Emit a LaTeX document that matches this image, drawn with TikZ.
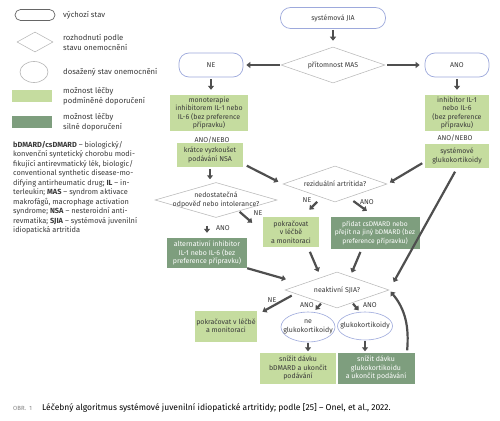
\documentclass[tikz,border=0pt]{standalone}
\usepackage{fontspec}
\setmainfont{Fira Sans}
\usepackage{xcolor}
\usetikzlibrary{arrows.meta,shapes,calc,positioning}
\definecolor{weakgreen}{HTML}{C5DC9F}
\definecolor{stronggreen}{HTML}{7E9E7E}
\definecolor{startline}{HTML}{9DA9DC}
\definecolor{decline}{HTML}{B4B4B4}
\definecolor{arrgray}{HTML}{4F4F4F}
\definecolor{txtgray}{HTML}{3A3A3A}

\begin{document}
\begin{tikzpicture}[x=1pt,y=-1pt]
			\tikzstyle{every node}=[font=\fontsize{7}{8.4}\selectfont, text=txtgray]
			\tikzstyle{start}=[draw=startline, line width=0.7pt, rounded corners=10pt, minimum height=24pt, inner sep=0pt]
			\tikzstyle{decision}=[draw=decline, line width=0.5pt, diamond, inner sep=0pt]
			\tikzstyle{result}=[draw=startline, line width=0.6pt, ellipse, inner sep=0pt]
			\tikzstyle{weak}=[fill=weakgreen, align=center, inner sep=0pt]
			\tikzstyle{strong}=[fill=stronggreen, text=white, align=center, inner sep=0pt]
			\tikzstyle{legtxt}=[anchor=west, align=left, inner sep=0pt, font=\fontsize{7.7}{10}\selectfont]
			\tikzstyle{arr}=[line width=2.2pt, draw=arrgray, -{Triangle[length=4pt,width=6pt]}]
			\fill[white] (0,0) rectangle (500,420);
			\useasboundingbox (0,0) rectangle (500,420);
			% legend
			\node[start, draw=gray!80!black, minimum width=40pt, minimum height=11pt, rounded corners=5.5pt] (legstart) at (35,15) {};
			\node[legtxt] (legstarttxt) at (63,15) {výchozí stav};
			\node[decision, minimum width=36pt, minimum height=20pt] (legdec) at (35,42) {};
			\node[legtxt] (legdectxt) at (63,42) {rozhodnutí podle\\stavu onemocnění};
			\node[result, draw=decline, minimum width=28pt, minimum height=21pt] (legres) at (34,72) {};
			\node[legtxt] (legrestxt) at (63,72) {dosažený stav onemocnění};
			\node[weak, minimum width=40pt, minimum height=12pt] (legweak) at (32,96) {};
			\node[legtxt] (legweaktxt) at (63,96) {možnost léčby\\podmíněné doporučení};
			\node[strong, minimum width=40pt, minimum height=12pt] (legstrong) at (32,122) {};
			\node[legtxt] (legstrongtxt) at (63,122) {možnost léčby\\silné doporučení};
			\node[anchor=north west, align=left, inner sep=0pt, font=\fontsize{7.4}{9.5}\selectfont] (abbr) at (13,141) {\textbf{bDMARD/csDMARD} – biologický/\\konvenční syntetický chorobu modi-\\fikující antirevmatický lék, biologic/\\conventional synthetic disease-mo-\\difying antirheumatic drug; \textbf{IL} – in-\\terleukin; \textbf{MAS} – syndrom aktivace\\makrofágů, macrophage activation\\syndrome; \textbf{NSA} – nesteroidní anti-\\revmatika; \textbf{SJIA} – systémová juvenilní\\idiopatická artritida};
			% flow
			\node[start, minimum width=105pt, minimum height=21pt] (jia) at (333,18) {systémová JIA};
			\node[decision, minimum width=104pt, minimum height=36pt, label={center:přítomnost MAS}] (mas) at (333,65) {};
			\node[start, minimum width=64pt] (ne) at (211,65) {NE};
			\node[start, minimum width=64pt] (ano) at (457,65) {ANO};
			\node[weak, minimum width=78pt, minimum height=36pt] (mono) at (209,113) {monoterapie\\inhibitorem IL-1 nebo\\IL-6 (bez preference\\přípravku)};
			\node[weak, minimum width=64pt, minimum height=36pt] (il) at (457,113) {inhibitor IL-1\\nebo IL-6\\(bez preference\\přípravku)};
			\node (anonebo1) at (212,140) {ANO/NEBO};
			\node (anonebo2) at (455,138) {ANO/NEBO};
			\node[weak, minimum width=66pt, minimum height=24pt] (nsa) at (210,155) {krátce vyzkoušet\\podávání NSA};
			\node[weak, minimum width=64pt, minimum height=24pt] (glk) at (457,156) {systémové\\glukokortikoidy};
			\node[decision, minimum width=122pt, minimum height=35pt, label={[align=center]center:nedostatečná\\odpověď nebo intolerance?}] (nedost) at (216,200) {};
			\node[decision, minimum width=104pt, minimum height=36pt, label={center:reziduální artritida?}] (rez) at (335,184) {};
			\node[weak, minimum width=56pt, minimum height=30pt] (pokr1) at (291,232) {pokračovat\\v léčbě\\a monitoraci};
			\node[strong, minimum width=89pt, minimum height=32pt, font=\fontsize{6.7}{8.2}\selectfont] (pridat) at (375,233) {přidat csDMARD nebo\\přejít na jiný bDMARD (bez\\preference přípravku)};
			\node[strong, minimum width=80pt, minimum height=30pt] (alt) at (207,253) {alternativní inhibitor\\IL-1 nebo IL-6 (bez\\preference přípravku)};
			\node[decision, minimum width=104pt, minimum height=36pt, label={center:neaktivní SJIA?}] (neakt) at (337,290) {};
			\node[weak, minimum width=62pt, minimum height=31pt] (pokr2) at (226,326) {pokračovat v léčbě\\a monitoraci};
			\node[result, minimum width=54pt, minimum height=30pt, label={[align=center]center:ne\\glukokortikoidy}] (negk) at (308,327) {};
			\node[result, minimum width=55pt, minimum height=28pt, label={center:glukokortikoidy}] (gk) at (365,326) {};
			\node[weak, minimum width=76pt, minimum height=31pt] (snizb) at (298,368) {snížit dávku\\bDMARD a ukončit\\podávání};
			\node[strong, minimum width=77pt, minimum height=31pt] (snizg) at (376,368) {snížit dávku\\glukokortikoidu\\a ukončit podávání};
			% branch labels
			\node (nedostne) at (258,213) {NE};
			\node (nedostano) at (223,228) {ANO};
			\node (rezne) at (307,200) {NE};
			\node (rezano) at (367,202) {ANO};
			\node (neaktne) at (272,300) {NE};
			\node (neaktano1) at (307,305) {ANO};
			\node (neaktano2) at (370,305) {ANO};
			% arrows
			\draw[arr, shorten <=1pt, shorten >=6pt] (jia.south) -- (mas.north);
			\draw[arr, shorten <=1pt, shorten >=3pt] (mas.west) -- (ne.east);
			\draw[arr, shorten <=2pt, shorten >=5pt] (mas.east) -- (ano.west);
			\draw[arr, shorten <=2pt, shorten >=5pt] (ne.south) -- (ne.south |- mono.north);
			\draw[arr, shorten <=2pt, shorten >=5pt] (ano.south) -- (il.north);
			\draw[arr, shorten <=2pt, shorten >=3pt] (nsa.south) -- (nsa.south |- nedost.north);
			\draw[arr, shorten <=4pt, shorten >=5pt] (nsa.-15) -- (rez.west);
			\draw[arr, shorten <=3pt, shorten >=3pt] (glk.190) -- (rez.east);
			\draw[arr, shorten <=1pt, shorten >=14pt] (nedost.-26) -- (pokr1.west);
			\draw[arr, shorten <=8pt, shorten >=5pt] (alt.north |- nedost.south) -- (alt.north);
			\draw[arr, shorten <=6pt, shorten >=10pt] (rez.225) -- ($(pokr1.north)!0.4!(pokr1.north east)$);
			\draw[arr, shorten <=6pt, shorten >=10pt] (rez.-45) -- (pridat.north);
			\draw[arr, shorten <=4pt, shorten >=9pt] (glk.south) -- (neakt.east);
			\draw[arr, shorten <=5pt, shorten >=6pt] ($(pokr1.south)!0.6!(pokr1.south east)$) -- (neakt.142);
			\draw[arr, shorten <=3pt, shorten >=4pt] ($(pridat.south)!0.3!(pridat.south west)$) -- (neakt.46);
			\draw[arr, shorten <=0pt, shorten >=17pt] (alt.south east) -- (neakt.170);
			\draw[arr, shorten <=4pt, shorten >=6pt] (neakt.185) -- (pokr2.20);
			\draw[arr, shorten <=1pt, shorten >=3pt] (neakt.220) -- (negk.70);
			\draw[arr, shorten <=1pt, shorten >=2pt] (neakt.-40) -- (gk.110);
			\draw[arr, shorten <=1pt, shorten >=1pt] (negk.south) -- (negk.south |- snizb.north);
			\draw[arr, shorten <=1pt, shorten >=1pt] (gk.south) -- (gk.south |- snizg.north);
			\draw[arr, shorten <=2pt, shorten >=2pt] ($(snizg.north)!0.8!(snizg.north east)$) to[out=85, in=-50] (neakt.east);
			% caption
			\node[anchor=west, inner sep=0pt, font=\fontsize{6}{7}\selectfont, text=gray] (obr) at (13,408) {OBR.~~1};
			\node[anchor=west, inner sep=0pt, font=\fontsize{8.5}{10}\selectfont, text=black] (caption) at (42,408) {Léčebný algoritmus systémové juvenilní idiopatické artritidy; podle [25] – Onel, et al., 2022.};
		\end{tikzpicture}
\end{document}
